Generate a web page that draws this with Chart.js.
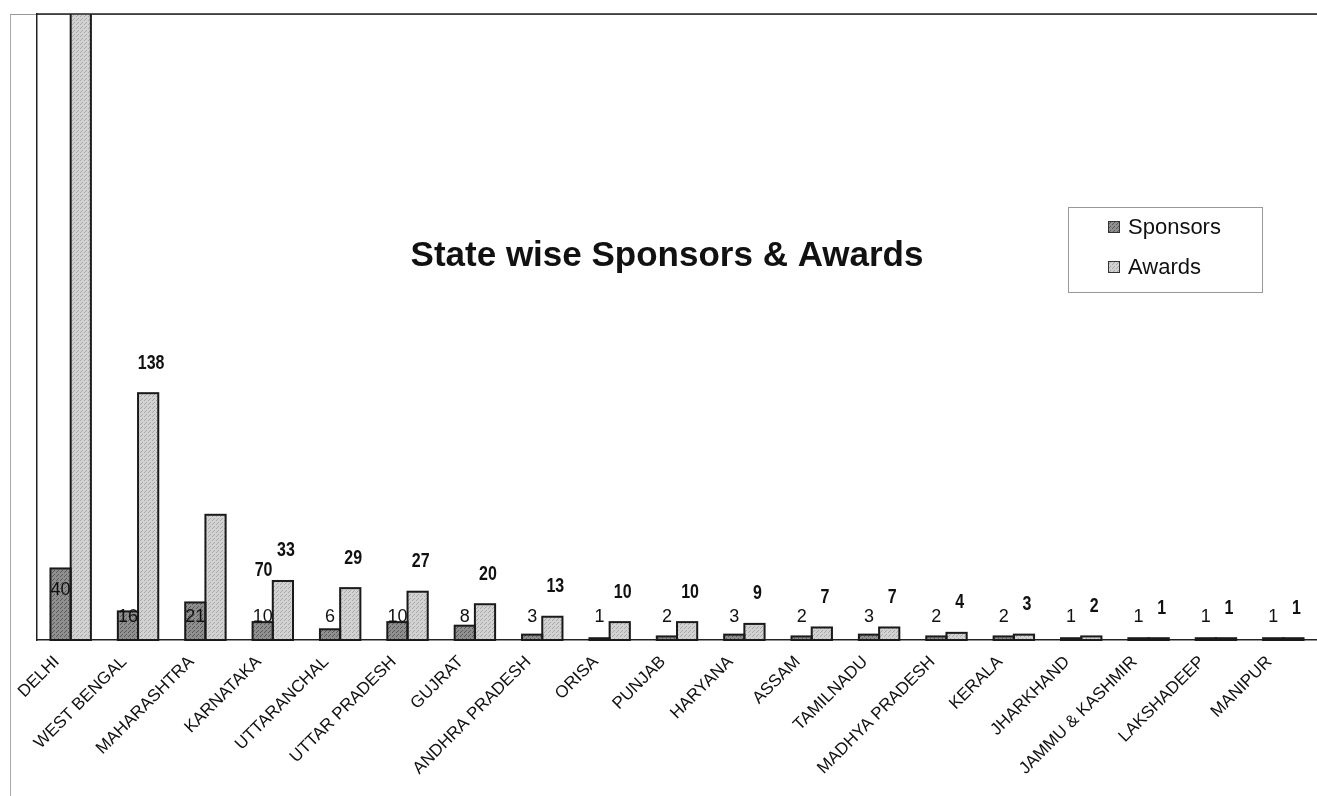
<!DOCTYPE html>
<html>
<head>
<meta charset="utf-8">
<script src="https://cdn.jsdelivr.net/npm/chart.js@4.4.1/dist/chart.umd.min.js"></script>
<style>
  html, body { margin: 0; padding: 0; background: #fff; }
  #wrap { position: relative; width: 1317px; height: 796px; overflow: hidden; }
  #frame { position: absolute; left: 10px; top: 14px; right: 0; bottom: 0; border-left: 1px solid #aaa; border-top: 1px solid #999; }
  canvas { position: absolute; left: 0; top: 0; }
</style>
</head>
<body>
<div id="wrap">
  <div id="frame"></div>
  <canvas id="stateChart" width="1317" height="796"></canvas>
</div>
<script>
const states = ['DELHI', 'WEST BENGAL', 'MAHARASHTRA', 'KARNATAKA', 'UTTARANCHAL', 'UTTAR PRADESH', 'GUJRAT',
    'ANDHRA PRADESH', 'ORISA', 'PUNJAB', 'HARYANA', 'ASSAM', 'TAMILNADU', 'MADHYA PRADESH', 'KERALA',
    'JHARKHAND', 'JAMMU & KASHMIR', 'LAKSHADEEP', 'MANIPUR'];
const sponsors = [40, 16, 21, 10, 6, 10, 8, 3, 1, 2, 3, 2, 3, 2, 2, 1, 1, 1, 1];
// Delhi's awards bar runs off the top of the picture, value estimated
const awards = [380, 138, 70, 33, 29, 27, 20, 13, 10, 10, 9, 7, 7, 4, 3, 2, 1, 1, 1];
const yMax = 350;
const chartTitle = 'State wise Sponsors & Awards';

const ctx = document.getElementById('stateChart').getContext('2d');

// dotted grey fills like the scanned original
function makePattern(base, dot) {
    const c = document.createElement('canvas');
    c.width = 4; c.height = 4;
    const g = c.getContext('2d');
    g.fillStyle = base;
    g.fillRect(0, 0, 4, 4);
    g.fillStyle = dot;
    g.fillRect(0, 0, 1, 1);
    g.fillRect(2, 2, 1, 1);
    g.fillRect(1, 3, 1, 1);
    return ctx.createPattern(c, 'repeat');
}
const sponsorFill = makePattern('#8f8f8f', '#5a5a5a');
const awardFill = makePattern('#d2d2d2', '#a8a8a8');

const FONT = '"Liberation Sans", Arial, sans-serif';

// no narrow font installed, so squeeze the bold one horizontally
function narrowText(c, text, x, y) {
    c.save();
    c.translate(x, y);
    c.scale(0.8, 1);
    c.fillText(text, 0, 0);
    c.restore();
}

const labelsPlugin = {
    id: 'extras',
    afterDatasetsDraw(chart) {
        const c = chart.ctx;
        const a = chart.chartArea;
        const base = chart.scales.y.getPixelForValue(0);
        c.save();

        // outlines centred on the bar edges, so tiny bars show as thick black lines
        c.beginPath();
        c.rect(a.left, a.top, a.right - a.left, a.bottom - a.top + 2);
        c.clip();
        c.strokeStyle = '#1a1a1a';
        c.lineWidth = 2;
        chart.data.datasets.forEach((ds, di) => {
            chart.getDatasetMeta(di).data.forEach(bar => {
                const top = Math.max(bar.y, a.top - 4);
                c.strokeRect(bar.x - bar.width / 2, top, bar.width, base - top);
            });
        });
        c.restore();

        c.save();
        c.fillStyle = '#111';
        c.textAlign = 'center';
        c.textBaseline = 'middle';

        // sponsor values, normal weight
        c.font = '18px ' + FONT;
        chart.getDatasetMeta(0).data.forEach((bar, i) => {
            const y = Math.min(base - 23, bar.y + 22);
            c.fillText(String(sponsors[i]), bar.x, y);
        });

        // award values, bold narrow, above the bars
        c.font = 'bold 20px ' + FONT;
        chart.getDatasetMeta(1).data.forEach((bar, i) => {
            if (awards[i] > yMax) return;
            let x = bar.x + 3;
            let y = bar.y - 30;
            if (i === 2) { x += 45; y += 86; } // the original puts this one out of place
            narrowText(c, String(awards[i]), x, y);
        });

        c.restore();
    },
    afterDraw(chart) {
        const c = chart.ctx;
        const a = chart.chartArea;
        c.save();
        // top border of plot
        c.strokeStyle = '#222';
        c.lineWidth = 1.5;
        c.beginPath();
        c.moveTo(a.left, a.top);
        c.lineTo(a.right, a.top);
        c.stroke();

        // title
        c.fillStyle = '#111';
        c.font = 'bold 35px ' + FONT;
        c.textAlign = 'center';
        c.textBaseline = 'middle';
        c.fillText(chartTitle, 667, 256);

        // legend
        c.strokeStyle = '#999';
        c.lineWidth = 1;
        c.strokeRect(1068.5, 207.5, 194, 85);
        c.font = '22px ' + FONT;
        c.textAlign = 'left';
        const fills = [sponsorFill, awardFill];
        chart.data.datasets.forEach((ds, i) => {
            const y = 227 + i * 40;
            c.fillStyle = fills[i];
            c.fillRect(1108, y - 6, 12, 12);
            c.strokeStyle = '#333';
            c.strokeRect(1108.5, y - 5.5, 11, 11);
            c.fillStyle = '#111';
            c.fillText(ds.label, 1128, y + 1);
        });
        c.restore();
    }
};

const stateChart = new Chart(ctx, {
    type: 'bar',
    data: {
        labels: states,
        datasets: [{
            label: 'Sponsors',
            data: sponsors,
            backgroundColor: sponsorFill,
            borderWidth: 0,
            categoryPercentage: 0.6,
            barPercentage: 1.0
        }, {
            label: 'Awards',
            data: awards,
            backgroundColor: awardFill,
            borderWidth: 0,
            categoryPercentage: 0.6,
            barPercentage: 1.0
        }]
    },
    options: {
        responsive: false,
        animation: false,
        layout: { padding: { top: 14, left: 0, right: 0, bottom: 0 } },
        plugins: {
            legend: { display: false },
            title: { display: false },
            tooltip: { enabled: false }
        },
        scales: {
            x: {
                grid: { display: false },
                border: { color: '#222', width: 1.5 },
                ticks: {
                    autoSkip: false,
                    maxRotation: 45,
                    minRotation: 45,
                    padding: 4,
                    labelOffset: -14,
                    color: '#111',
                    font: { family: FONT, size: 17 }
                },
                afterFit(scale) { scale.height = 156; }
            },
            y: {
                min: 0,
                max: yMax,
                grid: { display: false },
                border: { color: '#222', width: 1.5 },
                ticks: { display: false },
                afterFit(scale) { scale.width = 37; }
            }
        }
    },
    plugins: [labelsPlugin]
});
</script>
</body>
</html>
